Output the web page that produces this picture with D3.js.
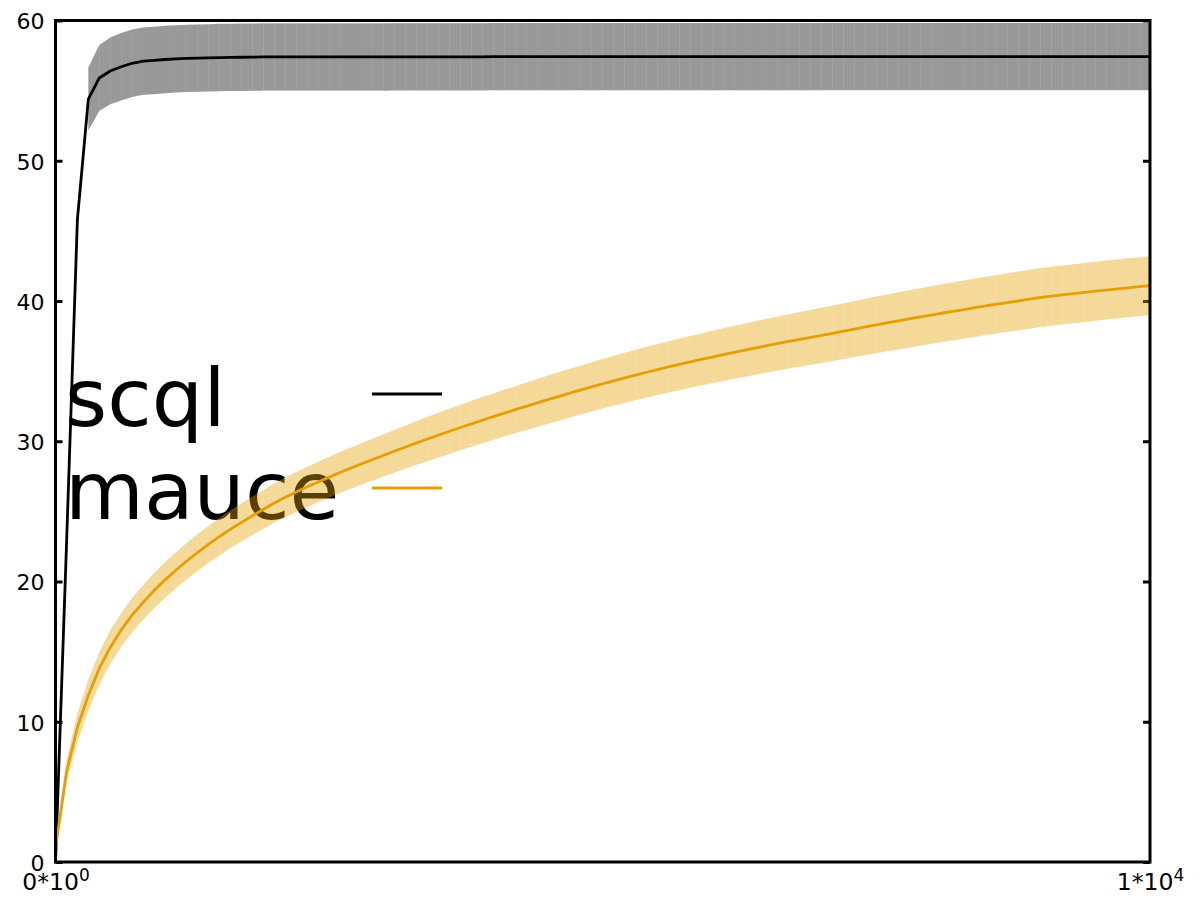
<!DOCTYPE html>
<html>
<head>
<meta charset="utf-8">
<script src="https://cdn.jsdelivr.net/npm/d3@7"></script>
<style>
  html, body { margin: 0; padding: 0; background: #fff; }
  svg { display: block; font-family: "DejaVu Sans", sans-serif; }
</style>
</head>
<body>
<svg id="chart" width="1200" height="900"></svg>
<script>
// ---- data ----
const seriesNames = ["scql", "mauce"];
const seriesColors = ["#000000", "#E69F00"];
const xStart = 0, xEnd = 10000, xStep = 100;
const xTickValues = [0, 10000];
const xTickMantissa = ["0*10", "1*10"];
const xTickExponent = ["0", "4"];
const yTickValues = [0, 10, 20, 30, 40, 50, 60];

const scqlMean = [
  0, 22.5, 45.8, 54.4, 55.9, 56.4, 56.7, 56.95, 57.1, 57.15,
  57.22, 57.27, 57.3, 57.32, 57.34, 57.36, 57.37, 57.38, 57.39, 57.4,
  57.4, 57.4, 57.4, 57.4, 57.4, 57.4, 57.4, 57.4, 57.4, 57.4,
  57.4, 57.41, 57.41, 57.41, 57.41, 57.41, 57.41, 57.41, 57.41, 57.41,
  57.42, 57.42, 57.42, 57.42, 57.42, 57.42, 57.42, 57.42, 57.42, 57.42,
  57.42, 57.42, 57.42, 57.42, 57.42, 57.42, 57.42, 57.42, 57.42, 57.42,
  57.42, 57.42, 57.42, 57.42, 57.42, 57.42, 57.42, 57.42, 57.42, 57.42,
  57.43, 57.43, 57.43, 57.43, 57.43, 57.43, 57.43, 57.43, 57.43, 57.43,
  57.43, 57.43, 57.43, 57.43, 57.43, 57.43, 57.43, 57.43, 57.43, 57.43,
  57.43, 57.43, 57.43, 57.43, 57.43, 57.43, 57.43, 57.43, 57.43, 57.43,
  57.43
];
const scqlSpread = [
  null, null, null, 2.25, 2.35, 2.38, 2.4, 2.4, 2.4, 2.4,
  2.4, 2.4, 2.4, 2.4, 2.4, 2.4, 2.4, 2.4, 2.4, 2.4,
  2.4, 2.4, 2.4, 2.4, 2.4, 2.4, 2.4, 2.4, 2.4, 2.4,
  2.4, 2.4, 2.4, 2.4, 2.4, 2.4, 2.4, 2.4, 2.4, 2.4,
  2.4, 2.4, 2.4, 2.4, 2.4, 2.4, 2.4, 2.4, 2.4, 2.4,
  2.4, 2.4, 2.4, 2.4, 2.4, 2.4, 2.4, 2.4, 2.4, 2.4,
  2.4, 2.4, 2.4, 2.4, 2.4, 2.4, 2.4, 2.4, 2.4, 2.4,
  2.4, 2.4, 2.4, 2.4, 2.4, 2.4, 2.4, 2.4, 2.4, 2.4,
  2.4, 2.4, 2.4, 2.4, 2.4, 2.4, 2.4, 2.4, 2.4, 2.4,
  2.4, 2.4, 2.4, 2.4, 2.4, 2.4, 2.4, 2.4, 2.4, 2.4,
  2.4
];
const mauceMean = [
  1.0, 6.4, 9.6, 11.9, 13.8, 15.3, 16.55, 17.6, 18.5, 19.35,
  20.1, 20.8, 21.46, 22.08, 22.66, 23.21, 23.73, 24.22, 24.69, 25.15,
  25.6, 26.0, 26.38, 26.75, 27.1, 27.44, 27.77, 28.09, 28.4, 28.7,
  29.0, 29.3, 29.59, 29.88, 30.16, 30.44, 30.71, 30.98, 31.24, 31.5,
  31.75, 32.0, 32.25, 32.49, 32.73, 32.97, 33.2, 33.43, 33.66, 33.88,
  34.1, 34.31, 34.52, 34.72, 34.92, 35.11, 35.3, 35.48, 35.66, 35.83,
  36.0, 36.17, 36.34, 36.5, 36.66, 36.82, 36.97, 37.12, 37.27, 37.41,
  37.55, 37.7, 37.85, 38.0, 38.15, 38.3, 38.44, 38.58, 38.72, 38.86,
  39.0, 39.13, 39.26, 39.39, 39.52, 39.65, 39.77, 39.89, 40.01, 40.13,
  40.25, 40.34, 40.43, 40.52, 40.61, 40.7, 40.78, 40.86, 40.94, 41.02,
  41.1
];
const mauceSpread = [
  0.3, 0.8, 1.0, 1.1, 1.15, 1.2, 1.2, 1.22, 1.24, 1.26,
  1.27, 1.28, 1.3, 1.31, 1.32, 1.33, 1.35, 1.36, 1.37, 1.38,
  1.4, 1.41, 1.42, 1.43, 1.44, 1.45, 1.46, 1.47, 1.48, 1.49,
  1.5, 1.52, 1.54, 1.56, 1.58, 1.6, 1.62, 1.63, 1.64, 1.65,
  1.66, 1.67, 1.68, 1.7, 1.71, 1.72, 1.73, 1.74, 1.75, 1.76,
  1.77, 1.78, 1.79, 1.8, 1.81, 1.82, 1.83, 1.84, 1.85, 1.86,
  1.87, 1.88, 1.89, 1.9, 1.91, 1.92, 1.93, 1.94, 1.95, 1.96,
  1.97, 1.98, 1.99, 2.0, 2.01, 2.02, 2.03, 2.04, 2.05, 2.05,
  2.06, 2.06, 2.07, 2.07, 2.08, 2.08, 2.09, 2.09, 2.1, 2.1,
  2.1, 2.1, 2.1, 2.1, 2.1, 2.1, 2.1, 2.1, 2.1, 2.1,
  2.1
];

// ---- layout ----
const plot = { left: 55.5, right: 1150, top: 20.5, bottom: 862 };
const svg = d3.select("#chart");

const x = d3.scaleLinear().domain([xStart, xEnd]).range([plot.left, plot.right]);
const y = d3.scaleLinear().domain([0, 60]).range([plot.bottom, plot.top]);

function buildSeries(mean, spread) {
  const n = Math.min(mean.length, spread.length);
  const out = [];
  for (let i = 0; i < n; i++) {
    out.push({ x: xStart + i * xStep, m: mean[i], s: spread[i] });
  }
  return out;
}
const series = [
  buildSeries(scqlMean, scqlSpread),
  buildSeries(mauceMean, mauceSpread)
];

// ---- axes (ticks under bands) ----
const yAxisL = d3.axisLeft(y).tickValues(yTickValues).tickSize(-7).tickPadding(11);
const gL = svg.append("g").attr("transform", `translate(${plot.left},0)`).call(yAxisL);
gL.attr("font-size", 22).attr("font-family", "DejaVu Sans, sans-serif");
gL.select(".domain").remove();
gL.selectAll(".tick line").attr("stroke", "#000").attr("stroke-width", 3);
gL.selectAll(".tick text").attr("font-size", 22).attr("fill", "#000")
  .attr("font-family", "DejaVu Sans, sans-serif").attr("dy", "0.38em");

const yAxisR = d3.axisRight(y).tickValues(yTickValues).tickSize(-7).tickFormat("");
const gR = svg.append("g").attr("transform", `translate(${plot.right},0)`).call(yAxisR);
gR.select(".domain").remove();
gR.selectAll(".tick line").attr("stroke", "#000").attr("stroke-width", 3);

const xAxis = d3.axisBottom(x).tickValues(xTickValues).tickSize(0).tickPadding(0);
const gX = svg.append("g").attr("transform", `translate(0,${plot.bottom})`).call(xAxis);
gX.attr("font-size", 23.5).attr("font-family", "DejaVu Sans, sans-serif");
gX.select(".domain").remove();
gX.selectAll(".tick text").each(function(d, i) {
  const t = d3.select(this);
  t.text(null).attr("y", 28).attr("dy", 0).attr("font-size", 23.5)
    .attr("fill", "#000").attr("font-family", "DejaVu Sans, sans-serif");
  t.append("tspan").text(xTickMantissa[i]);
  t.append("tspan").attr("font-size", 17).attr("dy", -9).text(xTickExponent[i]);
});

// ---- legend text (drawn under the bands) ----
const legendTextY = [426, 519];
const legendLineY = [394, 488];
seriesNames.forEach((name, i) => {
  svg.append("text").attr("x", 65).attr("y", legendTextY[i])
    .attr("font-size", 81).attr("font-family", "DejaVu Sans, sans-serif")
    .attr("fill", "#000").text(name);
  svg.append("line").attr("x1", 372).attr("x2", 442)
    .attr("y1", legendLineY[i]).attr("y2", legendLineY[i])
    .attr("stroke", seriesColors[i]).attr("stroke-width", 3);
});

// ---- bands, drawn segment by segment ----
const area = d3.area()
  .x(d => x(d.x))
  .y0(d => y(d.m - d.s))
  .y1(d => y(d.m + d.s));

series.forEach((data, si) => {
  const g = svg.append("g");
  for (let i = 0; i < data.length - 1; i++) {
    const a = data[i], b = data[i + 1];
    if (a.s == null || b.s == null) continue;
    g.append("path").attr("d", area([a, b]))
      .attr("fill", seriesColors[si]).attr("fill-opacity", 0.4);
  }
});

// ---- mean lines ----
const line = d3.line().x(d => x(d.x)).y(d => y(d.m));
series.forEach((data, si) => {
  svg.append("path").attr("d", line(data)).attr("fill", "none")
    .attr("stroke", seriesColors[si]).attr("stroke-width", 2.8)
    .attr("stroke-linejoin", "round");
});

// ---- frame ----
svg.append("rect")
  .attr("x", plot.left).attr("y", plot.top)
  .attr("width", plot.right - plot.left).attr("height", plot.bottom - plot.top)
  .attr("fill", "none").attr("stroke", "#000").attr("stroke-width", 3);
</script>
</body>
</html>
